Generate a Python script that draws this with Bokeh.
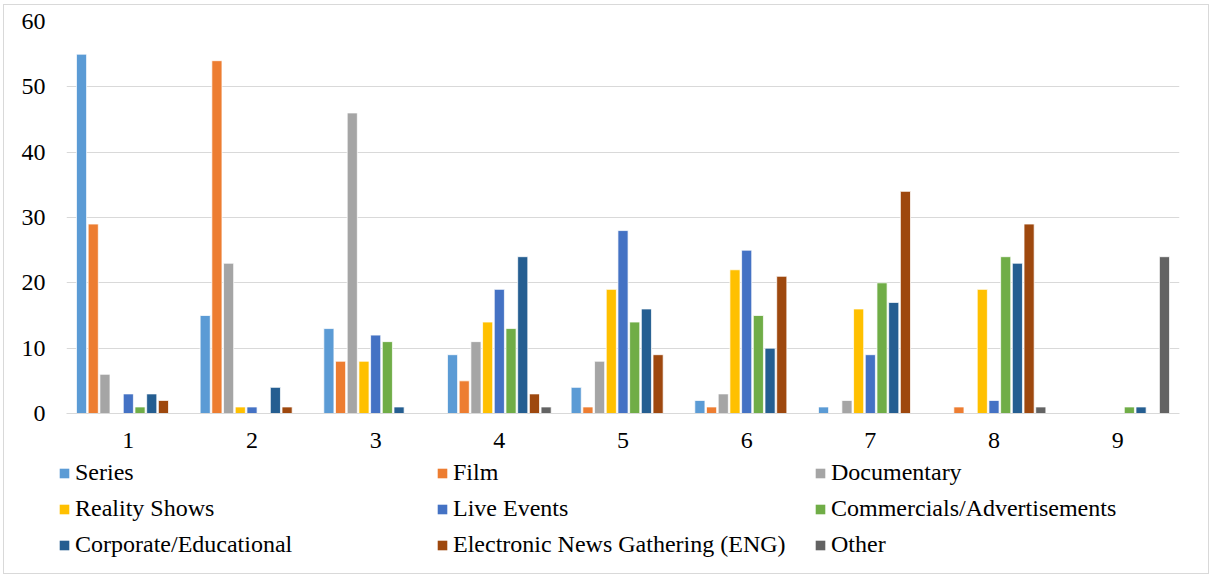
from bokeh.plotting import figure
from bokeh.layouts import column, row
from bokeh.models import FactorRange, Range1d, Legend, LegendItem, ColumnDataSource, FixedTicker
from bokeh.transform import dodge
from bokeh.embed import file_html
from bokeh.resources import INLINE

categories = ["1", "2", "3", "4", "5", "6", "7", "8", "9"]

series_names = [
    "Series", "Film", "Documentary",
    "Reality Shows", "Live Events", "Commercials/Advertisements",
    "Corporate/Educational", "Electronic News Gathering (ENG)", "Other",
]

series_colors = [
    "#5B9BD5", "#ED7D31", "#A5A5A5",
    "#FFC000", "#4472C4", "#70AD47",
    "#255E91", "#9E480E", "#636363",
]

series_s = [55, 15, 13, 9, 4, 2, 1, 0, 0]
film = [29, 54, 8, 5, 1, 1, 0, 1, 0]
documentary = [6, 23, 46, 11, 8, 3, 2, 0, 0]
reality_shows = [0, 1, 8, 14, 19, 22, 16, 19, 0]
live_events = [3, 1, 12, 19, 28, 25, 9, 2, 0]
commercials = [1, 0, 11, 13, 14, 15, 20, 24, 1]
corporate = [3, 4, 1, 24, 16, 10, 17, 23, 1]
eng = [2, 1, 0, 3, 9, 21, 34, 29, 0]
other = [0, 0, 0, 1, 0, 0, 0, 1, 24]

all_values = [series_s, film, documentary, reality_shows, live_events,
              commercials, corporate, eng, other]

FONT = "Liberation Serif"
GRID = "#D9D9D9"

data = {"cat": categories}
for j, vals in enumerate(all_values):
    data[f"s{j}"] = vals
source = ColumnDataSource(data)

# ---- main chart -------------------------------------------------------------
p = figure(
    width=1204, height=454,
    x_range=FactorRange(*categories, range_padding=0),
    y_range=Range1d(0, 60),
    output_backend="svg", toolbar_location=None,
    min_border_left=62, min_border_right=29, min_border_top=16, min_border_bottom=46,
)
p.outline_line_color = None
p.background_fill_color = "white"
p.border_fill_color = "white"

step = 0.0946
n = len(series_names)
for j in range(n):
    off = (j - (n - 1) / 2) * step
    p.vbar(
        x=dodge("cat", off, range=p.x_range), top=f"s{j}", width=0.082,
        source=source, fill_color=series_colors[j], line_color="white", line_width=0.75,
    )

p.yaxis.ticker = FixedTicker(ticks=[0, 10, 20, 30, 40, 50, 60])
p.yaxis.axis_line_color = None
p.yaxis.major_tick_line_color = None
p.yaxis.minor_tick_line_color = None
p.yaxis.major_tick_out = 0
p.yaxis.major_label_text_font = FONT
p.yaxis.major_label_text_font_size = "24px"
p.yaxis.major_label_text_color = "#000000"
p.yaxis.major_label_standoff = 21

p.xaxis.axis_line_color = GRID
p.xaxis.axis_line_width = 1
p.xaxis.major_tick_line_color = None
p.xaxis.minor_tick_line_color = None
p.xaxis.major_tick_out = 0
p.xaxis.major_label_text_font = FONT
p.xaxis.major_label_text_font_size = "24px"
p.xaxis.major_label_text_color = "#000000"
p.xaxis.major_label_standoff = 19

p.xgrid.grid_line_color = None
p.ygrid.grid_line_color = GRID
p.ygrid.grid_line_width = 1

# ---- legend strip below the chart ---------------------------------------------
# Swatch renderers are zero-height bars below this strip's y-range: they
# draw nothing themselves and only supply the legend entries.
lg = figure(
    width=1204, height=114, output_backend="svg", toolbar_location=None,
    x_range=FactorRange(*categories), y_range=Range1d(1, 2),
    x_axis_location=None, y_axis_location=None,
    min_border=0, min_border_left=54, min_border_top=0,
)
lg.grid.visible = False
lg.outline_line_color = None
lg.border_fill_color = "white"

swatches = []
for j in range(n):
    r = lg.vbar(x="cat", top=0, bottom=0, width=0.1, source=source,
                fill_color=series_colors[j], line_color=None)
    swatches.append(r)

legend = Legend(
    items=[LegendItem(label=name, renderers=[r]) for name, r in zip(series_names, swatches)],
    orientation="horizontal", ncols=3,
    label_text_font=FONT, label_text_font_size="24px", label_text_color="#000000",
    glyph_width=12, glyph_height=12, label_width=352, label_standoff=5,
    spacing=9, padding=0, margin=0, border_line_color=None,
    background_fill_alpha=0, location="top_left",
)
lg.add_layout(legend)

layout = column(p, row(lg), spacing=0)
layout.styles = {"border": "1px solid #D9D9D9", "margin": "4px 0 0 3px"}

open("out.html", "w").write(file_html(layout, INLINE))
